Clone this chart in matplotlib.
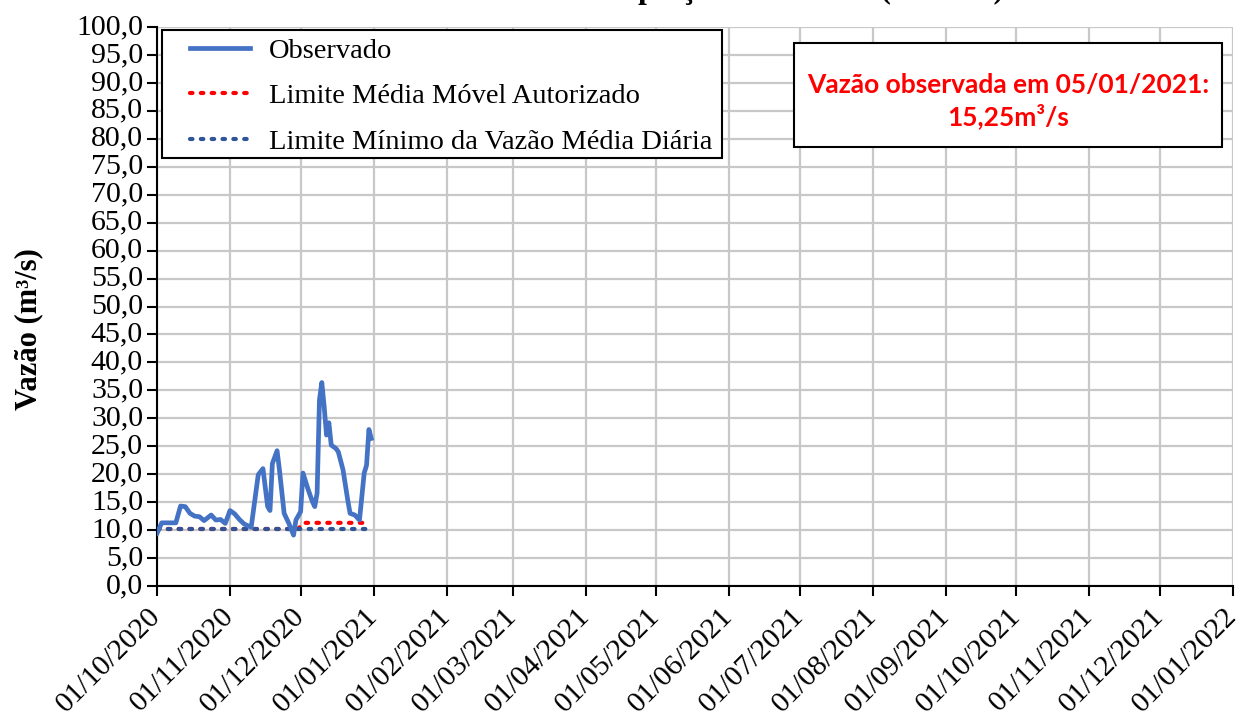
import numpy as np
import pandas as pd
import matplotlib
matplotlib.use("Agg")
import matplotlib.pyplot as plt
import matplotlib.dates as mdates
from matplotlib.ticker import MultipleLocator, FuncFormatter
from matplotlib.patches import Rectangle

obs_dates = ["2020-10-01", "2020-10-03", "2020-10-09", "2020-10-11", "2020-10-13",
             "2020-10-15", "2020-10-17", "2020-10-19", "2020-10-21", "2020-10-24",
             "2020-10-26", "2020-10-28", "2020-10-30", "2020-11-01", "2020-11-03",
             "2020-11-05", "2020-11-07", "2020-11-10", "2020-11-13", "2020-11-15",
             "2020-11-17", "2020-11-18", "2020-11-19", "2020-11-21", "2020-11-22",
             "2020-11-24", "2020-11-26", "2020-11-28", "2020-11-29", "2020-12-01",
             "2020-12-02", "2020-12-04", "2020-12-06", "2020-12-07", "2020-12-08",
             "2020-12-09", "2020-12-10", "2020-12-11", "2020-12-12", "2020-12-13",
             "2020-12-14", "2020-12-16", "2020-12-17", "2020-12-19", "2020-12-21",
             "2020-12-22", "2020-12-24", "2020-12-26", "2020-12-28", "2020-12-29",
             "2020-12-30", "2020-12-31"]
obs_values = [9.4, 11.3, 11.3, 14.3, 14.2,
              13.0, 12.5, 12.4, 11.7, 12.7,
              11.8, 11.9, 11.2, 13.5, 12.9,
              11.9, 11.1, 10.5, 19.9, 21.0,
              14.2, 13.5, 21.9, 24.2, 20.8,
              13.0, 11.2, 9.1, 11.8, 13.3,
              20.2, 17.5, 15.1, 14.2, 16.6,
              33.3, 36.4, 32.1, 27.0, 29.2,
              25.2, 24.6, 24.0, 20.8, 15.4,
              13.0, 12.7, 11.8, 20.2, 21.6,
              28.0, 26.4]

# moving average limit
mm_dates = ["2020-10-01", "2020-11-30", "2020-12-01", "2020-12-02", "2020-12-28"]
mm_values = [10.2, 10.2, 10.8, 11.3, 11.3]

# minimum daily limit
min_dates = ["2020-10-01", "2020-12-30"]
min_values = [10.2, 10.2]

annot_text = "Vazão observada em 05/01/2021:\n15,25m³/s"
title_text = "Vazão Média Diária na Captação do Atibaia (2020/21)"

serif = ["Liberation Serif", "DejaVu Serif"]
plt.rcParams["font.family"] = serif

fig = plt.figure(figsize=(12.41, 7.25), dpi=100)
ax = fig.add_axes([157 / 1241, 1 - 586 / 725, 1076 / 1241, 559 / 725])

ax.plot(pd.to_datetime(obs_dates), obs_values, color="#4472C4", lw=3.4,
        solid_joinstyle="round", label="Observado", zorder=4)
ax.plot(pd.to_datetime(mm_dates), mm_values, color="#FF0000", lw=3,
        linestyle=(0, (0.6, 2.0)), dash_capstyle="round",
        label="Limite Média Móvel Autorizado", zorder=3)
ax.plot(pd.to_datetime(min_dates), min_values, color="#2F5597", lw=3,
        linestyle=(0, (0.6, 2.0)), dash_capstyle="round",
        label="Limite Mínimo da Vazão Média Diária", zorder=3)

ax.set_xlim(pd.Timestamp("2020-10-01"), pd.Timestamp("2022-01-01"))
ax.set_ylim(0, 100)
ax.yaxis.set_major_locator(MultipleLocator(5))
ax.yaxis.set_major_formatter(FuncFormatter(lambda v, p: f"{v:.1f}".replace(".", ",")))
ax.xaxis.set_major_locator(mdates.MonthLocator())
ax.xaxis.set_major_formatter(mdates.DateFormatter("%d/%m/%Y"))
ax.grid(True, color="#C8C8C8", lw=1.6, zorder=0)
ax.set_axisbelow(True)

for s in ["top", "right"]:
    ax.spines[s].set_visible(False)
for s in ["left", "bottom"]:
    ax.spines[s].set_linewidth(1.5)
ax.tick_params(axis="both", direction="out", length=7, width=1.5, labelsize=21.5)
ax.tick_params(axis="y", pad=3)
ax.tick_params(axis="x", pad=12)
plt.setp(ax.get_xticklabels(), rotation=45, ha="right", va="center",
         rotation_mode="anchor")
for lab in ax.get_yticklabels():
    lab.set_verticalalignment("center")

ax.set_ylabel("Vazão (m³/s)", fontsize=22, fontweight="bold")
ax.yaxis.set_label_coords(-0.106, 0.46)

# legend frame drawn as its own box
ax.add_patch(Rectangle((0.0046, 0.7657), 0.5204, 0.229, transform=ax.transAxes,
                       facecolor="white", edgecolor="black", lw=1.5, zorder=5))
leg = ax.legend(loc="upper left", bbox_to_anchor=(0.031, 0.981), borderaxespad=0,
                borderpad=0, fontsize=20.5, handlelength=2.1, labelspacing=0.70,
                frameon=False, handletextpad=0.65)
leg.set_zorder(6)

ax.add_patch(Rectangle((0.592, 0.785), 0.398, 0.186, transform=ax.transAxes,
                       facecolor="white", edgecolor="black", lw=1.5, zorder=5))
ax.text(0.791, 0.867, annot_text, transform=ax.transAxes, ha="center", va="center",
        color="#FF0000", fontsize=19, fontweight="bold", linespacing=1.3,
        family=["Lato", "DejaVu Sans"], zorder=6)

fig.text(0.519, 1 + 2 / 725, title_text, ha="center", va="baseline",
         fontsize=22.5, fontweight="bold")

fig.savefig("out.png", dpi=100)
